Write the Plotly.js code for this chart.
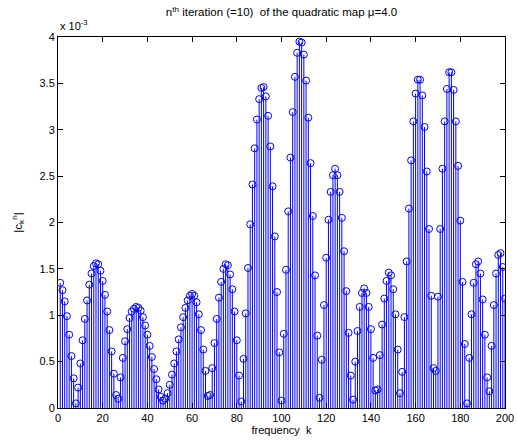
<!DOCTYPE html>
<html>
<head>
<meta charset="utf-8">
<script src="https://cdn.plot.ly/plotly-3.0.1.min.js"></script>
<style>
  html, body { margin: 0; padding: 0; background: #fff; }
  #chart { width: 517px; height: 444px; }
</style>
</head>
<body>
<div id="chart"></div>
<script>
// frequency index k = 1..200
const kIndex = Array.from({length: 200}, (_, i) => i + 1);

// |c_k^n| values in units of 1e-3
const ckValues = [
  1.35, 1.27, 1.15, 0.99, 0.79, 0.56, 0.32, 0.05, 0.22, 0.48,
  0.73, 0.96, 1.16, 1.33, 1.45, 1.53, 1.56, 1.55, 1.48, 1.37,
  1.22, 1.04, 0.84, 0.61, 0.37, 0.14, 0.10, 0.33, 0.54, 0.72,
  0.85, 0.97, 1.04, 1.07, 1.09, 1.08, 1.05, 0.98, 0.89, 0.79,
  0.67, 0.55, 0.42, 0.31, 0.20, 0.12, 0.08, 0.10, 0.16, 0.25,
  0.36, 0.48, 0.61, 0.74, 0.87, 0.98, 1.08, 1.16, 1.21, 1.23,
  1.21, 1.14, 1.01, 0.84, 0.63, 0.40, 0.13, 0.14, 0.43, 0.70,
  0.96, 1.19, 1.36, 1.50, 1.55, 1.54, 1.44, 1.28, 1.04, 0.73,
  0.35, 0.07, 0.53, 1.02, 1.51, 1.98, 2.41, 2.80, 3.11, 3.33,
  3.45, 3.46, 3.36, 3.15, 2.82, 2.39, 1.85, 1.25, 0.60, 0.08,
  0.80, 1.49, 2.12, 2.70, 3.19, 3.57, 3.83, 3.95, 3.94, 3.81,
  3.53, 3.13, 2.64, 2.07, 1.43, 0.78, 0.11, 0.52, 1.11, 1.62,
  2.03, 2.33, 2.51, 2.58, 2.51, 2.33, 2.05, 1.69, 1.26, 0.81,
  0.35, 0.09, 0.50, 0.83, 1.09, 1.24, 1.29, 1.24, 1.09, 0.85,
  0.54, 0.19, 0.20, 0.57, 0.90, 1.18, 1.37, 1.46, 1.43, 1.28,
  1.01, 0.63, 0.16, 0.39, 0.98, 1.58, 2.15, 2.67, 3.09, 3.39,
  3.54, 3.54, 3.37, 3.03, 2.55, 1.93, 1.21, 0.43, 0.40, 1.20,
  1.93, 2.58, 3.09, 3.44, 3.62, 3.62, 3.43, 3.09, 2.61, 2.02,
  1.36, 0.69, 0.05, 0.54, 1.01, 1.35, 1.55, 1.58, 1.45, 1.17,
  0.79, 0.33, 0.18, 0.67, 1.11, 1.45, 1.65, 1.67, 1.52, 1.18
];

const xTicks = [0, 20, 40, 60, 80, 100, 120, 140, 160, 180, 200];
const yTicks = [0, 0.5, 1, 1.5, 2, 2.5, 3, 3.5, 4];
const yTickText = ['0', '0.5', '1', '1.5', '2', '2.5', '3', '3.5', '4'];

const FONT = 'Liberation Sans, Arial, Helvetica, sans-serif';

const stems = {
  type: 'scatter',
  mode: 'markers',
  x: kIndex,
  y: ckValues,
  marker: {
    symbol: 'circle-open',
    size: 7,
    color: '#0000ff',
    line: { width: 1, color: '#0000ff' }
  },
  error_y: {
    type: 'data',
    symmetric: false,
    array: ckValues.map(() => 0),
    arrayminus: ckValues,
    width: 0,
    thickness: 1,
    color: '#0000ff'
  },
  hoverinfo: 'x+y',
  showlegend: false
};

const axisCommon = {
  showline: true,
  linecolor: '#000',
  linewidth: 1,
  mirror: 'ticks',
  ticks: 'inside',
  ticklen: 5,
  tickwidth: 1,
  tickcolor: '#000',
  showgrid: false,
  zeroline: false,
  tickfont: { family: FONT, size: 11, color: '#000' }
};

const layout = {
  width: 517,
  height: 444,
  margin: { l: 58, r: 12, t: 37, b: 36 },
  paper_bgcolor: '#fff',
  plot_bgcolor: '#fff',
  title: {
    text: 'n<sup>th</sup> iteration (=10)  of the quadratic map \u03bc=4.0',
    font: { family: FONT, size: 11.5, color: '#000' },
    x: 0.5,
    xref: 'paper',
    xanchor: 'center',
    y: 0.972,
    yref: 'container',
    yanchor: 'middle'
  },
  xaxis: Object.assign({}, axisCommon, {
    range: [0, 200],
    tickvals: xTicks,
    ticktext: xTicks.map(String),
    title: { text: 'frequency  k', font: { family: FONT, size: 11, color: '#000' }, standoff: 3 }
  }),
  yaxis: Object.assign({}, axisCommon, {
    range: [0, 4],
    tickvals: yTicks,
    ticktext: yTickText,
    title: { text: '|c<sub>k</sub><sup>n</sup>|', font: { family: FONT, size: 11.5, color: '#000' }, standoff: 14 }
  }),
  annotations: [{
    text: 'x 10<sup>-3</sup>',
    xref: 'paper', yref: 'paper',
    x: 0, y: 1,
    xanchor: 'left', yanchor: 'bottom',
    yshift: 3,
    showarrow: false,
    font: { family: FONT, size: 11, color: '#000' }
  }]
};

Plotly.newPlot('chart', [stems], layout, { displayModeBar: false, staticPlot: true });
</script>
</body>
</html>
